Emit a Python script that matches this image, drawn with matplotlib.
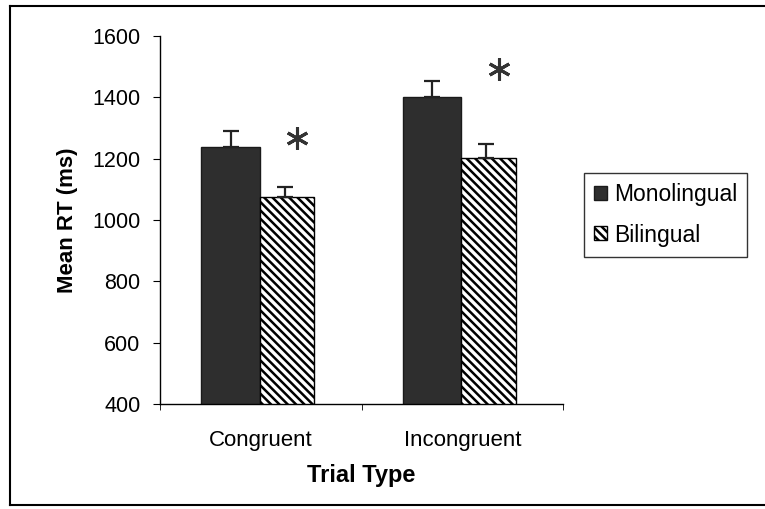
import numpy as np
import matplotlib
matplotlib.use("Agg")
import matplotlib.pyplot as plt
from matplotlib.lines import Line2D

plt.rcParams['font.family'] = ['Liberation Sans', 'DejaVu Sans']
plt.rcParams['hatch.linewidth'] = 1.8

# data
trial_types = ["Congruent", "Incongruent"]
mono_rt = [1237, 1402]
mono_se = [54, 51]
bi_rt = [1074, 1201]
bi_se = [33, 46]
star_y = [1266, 1492]

fig = plt.figure(figsize=(7.65, 5.09), dpi=100)
ax = fig.add_axes([160/765, 105/509, 403/765, 368/509])

x = np.arange(len(trial_types)) + 0.5
w = 0.29

ax.bar(x - w/2 - 0.005, mono_rt, w, color='#2e2e2e', edgecolor='#1a1a1a',
       label='Monolingual', zorder=2)
ax.bar(x + w/2 - 0.015, bi_rt, w * 0.93, color='white', edgecolor='black',
       hatch='\\\\\\\\', linewidth=1.0, label='Bilingual', zorder=2)

ax.errorbar(x - w/2 - 0.005, mono_rt, yerr=[[0, 0], mono_se], fmt='none',
            ecolor='#222222', elinewidth=1.6, capsize=6, capthick=1.6, zorder=3)
ax.errorbar(x + w/2 - 0.025, bi_rt, yerr=[[0, 0], bi_se], fmt='none',
            ecolor='#222222', elinewidth=1.6, capsize=6, capthick=1.6, zorder=3)

# significance stars
ax.plot(x + 0.18, star_y, linestyle='none', marker=(6, 2, 0), markersize=16,
        markeredgewidth=2.2, color='#333333', zorder=3)

ax.set_ylim(400, 1600)
ax.set_xlim(0, 2)
ax.set_yticks(range(400, 1601, 200))
ax.set_xticks(x)
ax.set_xticklabels(trial_types, fontsize=16)
ax.set_xticks([0, 1, 2], minor=True)
ax.tick_params(axis='x', which='major', length=0, pad=19)
ax.tick_params(axis='x', which='minor', length=4, direction='out')
ax.tick_params(axis='y', length=5, labelsize=15.5, pad=9)

for s in ['top', 'right']:
    ax.spines[s].set_visible(False)
ax.spines['left'].set_linewidth(1.0)
ax.spines['bottom'].set_linewidth(1.0)

ax.set_ylabel('Mean RT (ms)', fontsize=16, fontweight='bold', labelpad=10)
ax.set_xlabel('Trial Type', fontsize=17, fontweight='bold', labelpad=9)

leg = ax.legend(loc='upper left', bbox_to_anchor=(584/765, 1 - 173/509),
                bbox_transform=fig.transFigure, fontsize=16.5, frameon=True,
                fancybox=False, edgecolor='black', handlelength=0.55,
                handleheight=0.55, handletextpad=0.3, borderpad=0.45,
                labelspacing=0.75, borderaxespad=0)
leg.get_frame().set_linewidth(1.0)

# image frame
fig.add_artist(Line2D([10/765, 10/765], [1 - 6/509, 1 - 505/509], color='black', lw=1.5,
                      transform=fig.transFigure))
fig.add_artist(Line2D([10/765, 1], [1 - 6/509, 1 - 6/509], color='black', lw=1.5,
                      transform=fig.transFigure))
fig.add_artist(Line2D([10/765, 1], [1 - 505/509, 1 - 505/509], color='black', lw=1.5,
                      transform=fig.transFigure))

fig.savefig('out.png', dpi=100)
